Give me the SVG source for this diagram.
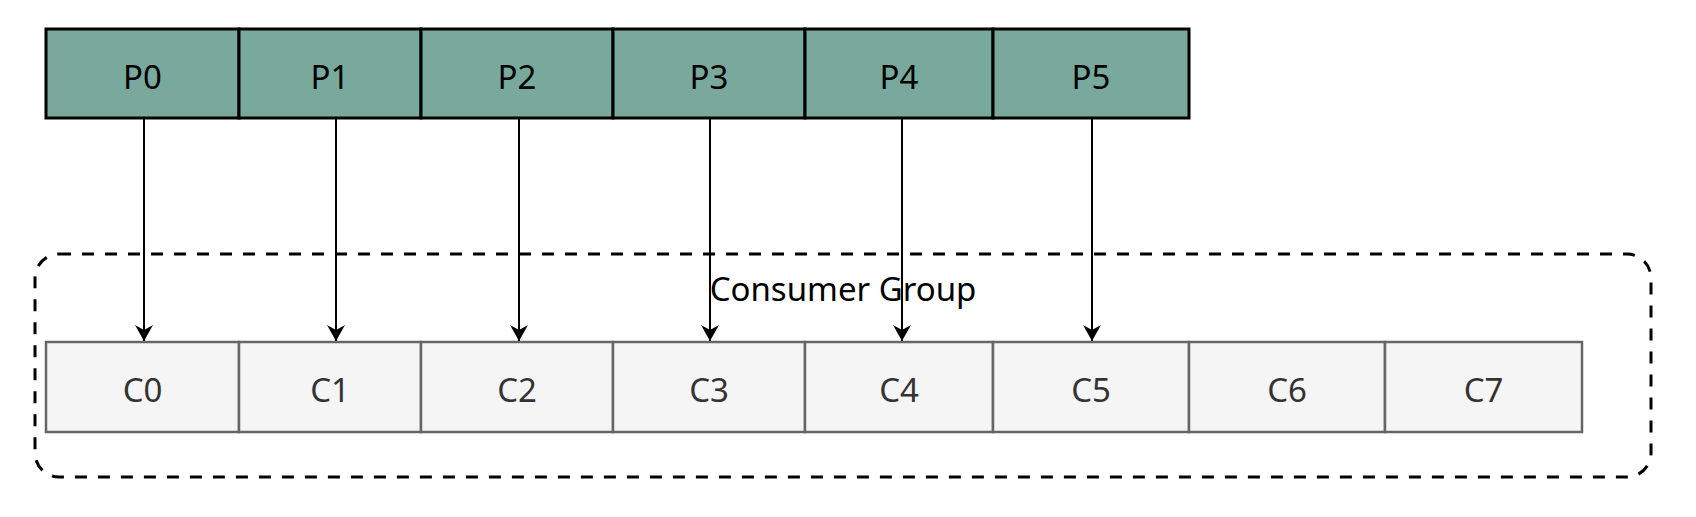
<svg xmlns="http://www.w3.org/2000/svg" width="1696" height="517" viewBox="0 0 1696 517">
<style>
.p{fill:#79a99c;stroke:#000;stroke-width:3}
.c{fill:#f5f5f5;stroke:#666;stroke-width:2.5}
.pt{font-family:'Comic Sans MS','Noto Sans',sans-serif;font-size:33px;fill:#000;text-anchor:middle}
.ct{font-family:'Comic Sans MS','Noto Sans',sans-serif;font-size:33px;fill:#333;text-anchor:middle}
.grp{fill:none;stroke:#000;stroke-width:3;stroke-dasharray:12 11}
.lbl{font-family:'Comic Sans MS','Noto Sans',sans-serif;font-size:33px;fill:#000;text-anchor:middle}
.e{stroke:#000;stroke-width:2;fill:none;marker-end:url(#ah)}
</style>
<defs>
<marker id="ah" markerUnits="userSpaceOnUse" viewBox="-18 -10 20 20" markerWidth="20" markerHeight="20" refX="0" refY="0" orient="auto" overflow="visible">
<path d="M0,0 L-16,-9 L-11,0 L-16,9 Z" fill="#000"/>
</marker>
</defs>
<rect x="0" y="0" width="1696" height="517" fill="#fff"/>
<g id="consumer-group">
<rect class="grp" x="35" y="254" width="1616" height="223" rx="24" ry="24"/>
<text class="lbl" x="843" y="301">Consumer Group</text>
</g>
<g id="P0"><rect class="p" x="46" y="29" width="193" height="89"/><text class="pt" x="142.5" y="89">P0</text></g>
<g id="P1"><rect class="p" x="239" y="29" width="182" height="89"/><text class="pt" x="330" y="89">P1</text></g>
<g id="P2"><rect class="p" x="421" y="29" width="192" height="89"/><text class="pt" x="517" y="89">P2</text></g>
<g id="P3"><rect class="p" x="613" y="29" width="192" height="89"/><text class="pt" x="709" y="89">P3</text></g>
<g id="P4"><rect class="p" x="805" y="29" width="188" height="89"/><text class="pt" x="899" y="89">P4</text></g>
<g id="P5"><rect class="p" x="993" y="29" width="196" height="89"/><text class="pt" x="1091" y="89">P5</text></g>
<g id="C0"><rect class="c" x="46" y="342" width="193" height="90"/><text class="ct" x="142.5" y="402">C0</text></g>
<g id="C1"><rect class="c" x="239" y="342" width="182" height="90"/><text class="ct" x="330" y="402">C1</text></g>
<g id="C2"><rect class="c" x="421" y="342" width="192" height="90"/><text class="ct" x="517" y="402">C2</text></g>
<g id="C3"><rect class="c" x="613" y="342" width="192" height="90"/><text class="ct" x="709" y="402">C3</text></g>
<g id="C4"><rect class="c" x="805" y="342" width="188" height="90"/><text class="ct" x="899" y="402">C4</text></g>
<g id="C5"><rect class="c" x="993" y="342" width="196" height="90"/><text class="ct" x="1091" y="402">C5</text></g>
<g id="C6"><rect class="c" x="1189" y="342" width="196" height="90"/><text class="ct" x="1287" y="402">C6</text></g>
<g id="C7"><rect class="c" x="1385" y="342" width="197" height="90"/><text class="ct" x="1483.5" y="402">C7</text></g>
<g id="connectors">
<line class="e" x1="144" y1="118" x2="144" y2="341"/>
<line class="e" x1="336" y1="118" x2="336" y2="341"/>
<line class="e" x1="519" y1="118" x2="519" y2="341"/>
<line class="e" x1="710" y1="118" x2="710" y2="341"/>
<line class="e" x1="902" y1="118" x2="902" y2="341"/>
<line class="e" x1="1092" y1="118" x2="1092" y2="341"/>
</g>
</svg>
